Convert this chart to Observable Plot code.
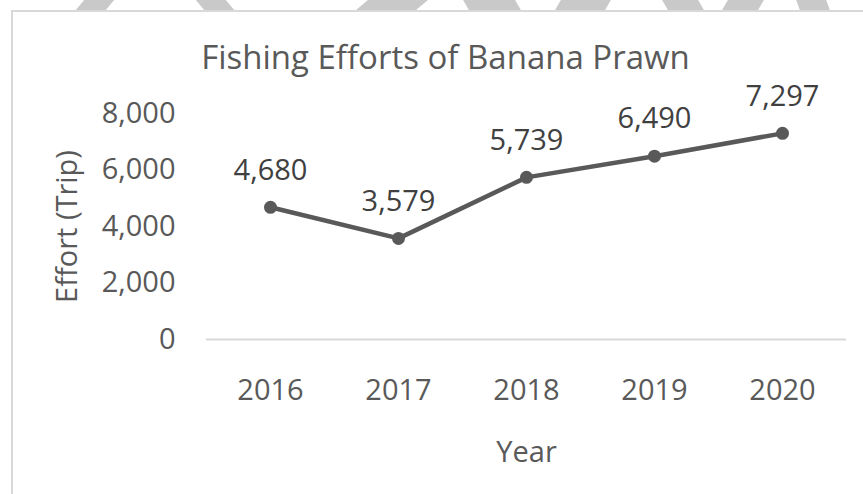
<!DOCTYPE html>
<html>
<head>
<meta charset="utf-8">
<script src="https://cdn.jsdelivr.net/npm/d3@7"></script>
<script src="https://cdn.jsdelivr.net/npm/@observablehq/plot@0.6"></script>
<style>
  html, body { margin: 0; padding: 0; background: #fff; }
  #wrap { position: relative; width: 863px; height: 494px; overflow: hidden; }
  #frame { position: absolute; left: 11px; top: 10px; width: 900px; height: 600px; border: 2px solid #d9d9d9; box-sizing: border-box; }
  #chart { position: absolute; left: 0; top: 0; }
  .wm { position: absolute; top: 0; height: 10px; background: #c9c9c9; }
</style>
</head>
<body>
<div id="wrap">
  <div class="wm" style="left:80px;width:30px;transform:skewX(-40deg)"></div>
  <div class="wm" style="left:200px;width:30px;transform:skewX(40deg)"></div>
  <div class="wm" style="left:362px;width:60px;transform:skewX(-50deg)"></div>
  <div class="wm" style="left:466px;width:52px;transform:skewX(30deg)"></div>
  <div class="wm" style="left:558px;width:50px;transform:skewX(-30deg)"></div>
  <div class="wm" style="left:665px;width:36px;transform:skewX(30deg)"></div>
  <div class="wm" style="left:725px;width:36px;transform:skewX(-30deg)"></div>
  <div class="wm" style="left:798px;width:30px;transform:skewX(20deg)"></div>
  <div id="frame"></div>
  <div id="chart"></div>
</div>
<script>
const title = "Fishing Efforts of Banana Prawn";
const xTitle = "Year";
const yTitle = "Effort (Trip)";
const years = ["2016", "2017", "2018", "2019", "2020"];
const effort = [4680, 3579, 5739, 6490, 7297];
const yTicks = [0, 2000, 4000, 6000, 8000];

const data = years.map((y, i) => ({year: y, value: effort[i]}));
const fmt = d3.format(",");
const ink = "#595959";
const labelInk = "#404040";
const font = "'Open Sans', Lato, sans-serif";

const chart = Plot.plot({
  width: 863,
  height: 494,
  marginLeft: 206,
  marginRight: 17,
  marginTop: 113,
  marginBottom: 155,
  style: {background: "transparent", color: ink, fontFamily: font},
  x: {type: "point", domain: years, padding: 0.5, label: null},
  y: {domain: [0, 8000], label: null},
  marks: [
    Plot.ruleY([0], {stroke: "#d9d9d9", strokeWidth: 2}),
    Plot.axisY({ticks: yTicks, tickFormat: fmt, tickSize: 0, tickPadding: 31, fontSize: 29, fill: ink, label: null}),
    Plot.axisX({tickSize: 0, tickPadding: 40, fontSize: 29, fill: ink, label: null}),
    Plot.line(data, {x: "year", y: "value", stroke: ink, strokeWidth: 4.5}),
    Plot.dot(data, {x: "year", y: "value", r: 6.5, fill: ink}),
    Plot.text(data, {x: "year", y: "value", text: d => fmt(d.value), dy: -37, fontSize: 29, fill: labelInk}),
    Plot.text([title], {frameAnchor: "top", text: d => d, textAnchor: "middle", lineAnchor: "middle", dx: -81, dy: -55, fontSize: 33, fill: ink}),
    Plot.text([xTitle], {frameAnchor: "bottom", text: d => d, textAnchor: "middle", lineAnchor: "middle", dy: 113, fontSize: 29, fill: ink}),
    Plot.text([yTitle], {frameAnchor: "left", text: d => d, textAnchor: "middle", lineAnchor: "middle", rotate: -90, dx: -139, fontSize: 29, fill: ink})
  ]
});
document.getElementById("chart").appendChild(chart);
</script>
</body>
</html>
